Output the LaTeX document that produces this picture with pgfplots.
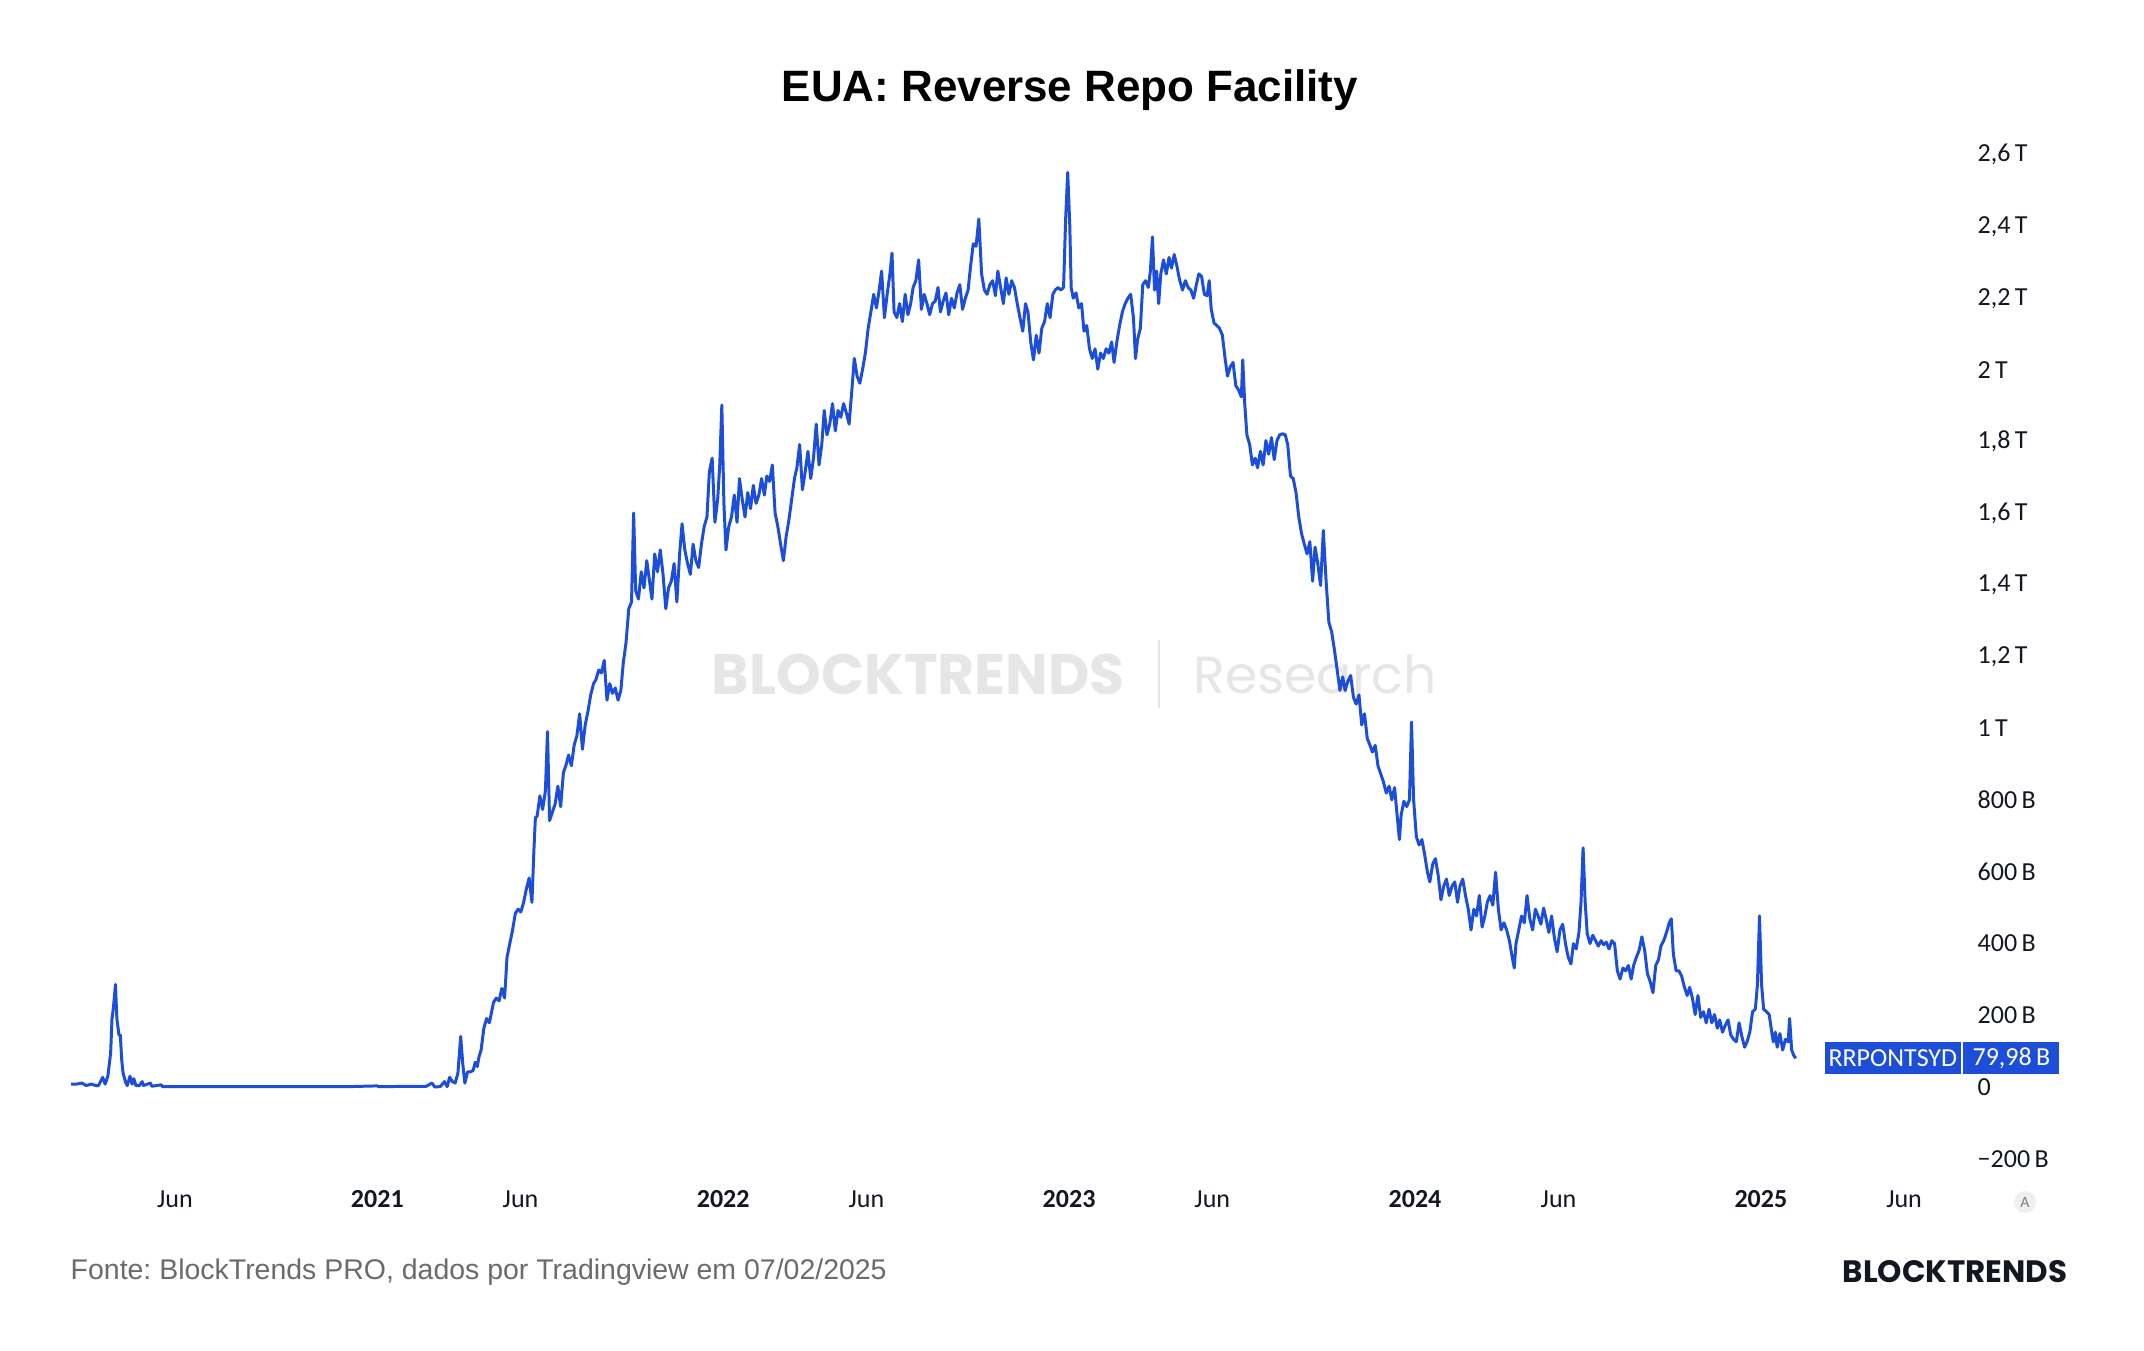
\documentclass[border=0pt]{standalone}
\usepackage{pgfplots}
\pgfplotsset{compat=1.18}
\usepackage{fontspec}
\setmainfont{Liberation Sans}
\newfontfamily\carl{Carlito}
\newfontfamily\pop{Poppins}
\definecolor{rrpblue}{HTML}{1D4ED8}
\definecolor{tick}{HTML}{131722}
\definecolor{foot}{HTML}{6B6B6B}
\definecolor{wm}{HTML}{E6E6E6}
\frenchspacing
\begin{document}
\begin{tikzpicture}[x=1cm,y=1cm]
\fill[white] (0,0) rectangle (21.44,13.5);
% title
\node[font=\bfseries\fontsize{12.5}{14}\selectfont, text=black] at (10.70,12.60) {EUA: Reverse Repo Facility};
% watermark
\node[anchor=west, inner sep=0, text=wm, font=\pop\bfseries\fontsize{16.2}{17}\selectfont] at (7.11,6.76) {BLOCKTRENDS};
\draw[wm, line width=0.6pt] (11.59,7.10) -- (11.59,6.42);
\node[anchor=west, inner sep=0, text=wm, font=\pop\fontsize{14.8}{16}\selectfont] at (11.93,6.76) {Research};
% footer
\node[anchor=west, inner sep=0, text=foot, font=\fontsize{8.1}{9}\selectfont] at (0.70,0.78) {Fonte: BlockTrends PRO, dados por Tradingview em 07/02/2025};
\node[anchor=east, inner sep=0, text=tick, font=\pop\bfseries\fontsize{8.8}{9}\selectfont] at (20.68,0.78) {BLOCKTRENDS};
% A button
\fill[gray!12] (20.25,1.48) circle (0.11);
\node[text=gray, font=\carl\fontsize{4.5}{5}\selectfont, inner sep=0] at (20.25,1.48) {A};
\begin{axis}[
  at={(0.591cm,1.734cm)}, anchor=south west,
  scale only axis, width=19.024cm, height=10.576cm,
  xmin=2020.08, xmax=2025.58, ymin=-250, ymax=2700,
  axis line style={draw=none}, tick style={draw=none}, major tick length=0,
  clip=false,
  xtick={2020.415,2021,2021.414,2022,2022.414,2023,2023.414,2024,2024.415,2025,2025.414},
  xticklabels={Jun,\textbf{2021},Jun,\textbf{2022},Jun,\textbf{2023},Jun,\textbf{2024},Jun,\textbf{2025},Jun},
  xticklabel style={anchor=center, yshift=-2.24mm, inner sep=0, font=\carl\fontsize{7.4}{8}\selectfont, text=tick},
  ytick={-200,0,200,400,600,800,1000,1200,1400,1600,1800,2000,2200,2400,2600},
  yticklabels={{−200\,B},0,200\,B,400\,B,600\,B,800\,B,1\,T,{1,2\,T},{1,4\,T},{1,6\,T},{1,8\,T},2\,T,{2,2\,T},{2,4\,T},{2,6\,T}},
  ytick pos=right, yticklabel pos=right,
  yticklabel style={anchor=west, inner sep=0, xshift=1.55mm, font=\carl\fontsize{7.4}{8}\selectfont, text=tick},
]
\addplot[rrpblue, line width=0.85pt, line join=round] table {
2020.115 8
2020.130 8
2020.146 11
2020.158 4
2020.174 8
2020.186 4
2020.194 4
2020.206 27
2020.213 8
2020.221 30
2020.229 95
2020.233 191
2020.237 221
2020.243 286
2020.247 191
2020.253 145
2020.257 145
2020.261 76
2020.265 38
2020.273 11
2020.277 4
2020.285 30
2020.291 8
2020.296 23
2020.302 4
2020.312 4
2020.320 15
2020.324 4
2020.344 11
2020.348 2
2020.375 6
2020.379 1
2020.700 1
2020.917 1
2021.000 3
2021.004 1
2021.142 2
2021.158 11
2021.166 0
2021.182 1
2021.194 15
2021.202 1
2021.209 27
2021.217 15
2021.225 11
2021.233 38
2021.241 141
2021.247 65
2021.253 11
2021.261 42
2021.269 42
2021.277 46
2021.283 69
2021.289 57
2021.294 84
2021.300 103
2021.304 133
2021.308 164
2021.316 191
2021.324 179
2021.332 217
2021.336 236
2021.344 248
2021.352 240
2021.360 275
2021.368 248
2021.375 362
2021.383 400
2021.391 438
2021.399 484
2021.407 496
2021.415 488
2021.423 515
2021.431 553
2021.439 583
2021.447 515
2021.453 667
2021.457 751
2021.462 755
2021.470 812
2021.478 774
2021.486 827
2021.492 991
2021.498 743
2021.506 766
2021.514 789
2021.522 839
2021.530 782
2021.538 877
2021.545 896
2021.553 926
2021.561 896
2021.569 953
2021.577 980
2021.585 1041
2021.593 942
2021.601 1010
2021.609 1048
2021.617 1094
2021.625 1125
2021.632 1136
2021.640 1163
2021.648 1155
2021.656 1190
2021.664 1079
2021.672 1125
2021.680 1098
2021.688 1113
2021.696 1079
2021.704 1106
2021.711 1182
2021.719 1239
2021.727 1334
2021.735 1353
2021.741 1601
2021.747 1384
2021.755 1361
2021.763 1437
2021.771 1392
2021.779 1468
2021.787 1411
2021.794 1361
2021.802 1487
2021.810 1437
2021.818 1498
2021.826 1430
2021.834 1334
2021.842 1392
2021.850 1411
2021.858 1460
2021.866 1353
2021.874 1487
2021.881 1571
2021.889 1498
2021.897 1460
2021.905 1430
2021.913 1514
2021.921 1468
2021.929 1449
2021.937 1514
2021.945 1563
2021.953 1590
2021.960 1716
2021.968 1754
2021.976 1575
2021.984 1639
2021.990 1735
2021.996 1902
2022.002 1628
2022.008 1498
2022.016 1563
2022.024 1590
2022.032 1651
2022.040 1575
2022.047 1697
2022.055 1639
2022.063 1590
2022.071 1658
2022.079 1613
2022.087 1678
2022.095 1628
2022.103 1651
2022.111 1697
2022.119 1651
2022.126 1704
2022.134 1689
2022.142 1735
2022.150 1601
2022.158 1563
2022.166 1514
2022.174 1468
2022.182 1536
2022.190 1582
2022.198 1639
2022.206 1697
2022.213 1727
2022.221 1792
2022.229 1666
2022.237 1716
2022.245 1773
2022.253 1697
2022.261 1754
2022.269 1849
2022.277 1735
2022.285 1792
2022.292 1887
2022.300 1819
2022.308 1849
2022.316 1906
2022.324 1830
2022.332 1887
2022.340 1868
2022.348 1906
2022.356 1880
2022.364 1849
2022.372 1944
2022.379 2032
2022.387 1983
2022.395 1963
2022.403 2002
2022.411 2047
2022.419 2116
2022.427 2162
2022.435 2211
2022.443 2173
2022.451 2223
2022.458 2276
2022.466 2146
2022.474 2211
2022.482 2268
2022.488 2326
2022.494 2162
2022.502 2146
2022.510 2185
2022.518 2135
2022.526 2211
2022.534 2154
2022.542 2185
2022.549 2230
2022.557 2249
2022.565 2307
2022.573 2169
2022.581 2211
2022.589 2185
2022.597 2154
2022.605 2185
2022.613 2192
2022.621 2230
2022.628 2162
2022.636 2192
2022.644 2215
2022.652 2154
2022.660 2200
2022.668 2173
2022.676 2215
2022.684 2238
2022.692 2169
2022.700 2200
2022.708 2223
2022.715 2288
2022.723 2352
2022.731 2345
2022.739 2421
2022.747 2268
2022.755 2223
2022.763 2211
2022.771 2238
2022.779 2249
2022.787 2207
2022.794 2276
2022.802 2230
2022.810 2185
2022.818 2257
2022.826 2211
2022.834 2249
2022.842 2230
2022.850 2185
2022.858 2146
2022.866 2108
2022.874 2185
2022.881 2162
2022.889 2078
2022.897 2028
2022.905 2097
2022.913 2047
2022.921 2116
2022.929 2135
2022.937 2185
2022.945 2146
2022.953 2211
2022.960 2223
2022.968 2230
2022.976 2223
2022.984 2230
2022.990 2421
2022.996 2551
2023.002 2402
2023.006 2230
2023.012 2200
2023.020 2215
2023.028 2173
2023.036 2185
2023.043 2108
2023.051 2124
2023.059 2059
2023.067 2032
2023.075 2059
2023.083 2002
2023.091 2047
2023.099 2032
2023.107 2059
2023.115 2047
2023.123 2078
2023.130 2021
2023.138 2078
2023.146 2124
2023.154 2162
2023.162 2185
2023.170 2200
2023.178 2211
2023.186 2146
2023.192 2032
2023.198 2085
2023.206 2116
2023.213 2238
2023.221 2249
2023.229 2230
2023.235 2276
2023.241 2371
2023.247 2223
2023.253 2276
2023.259 2185
2023.265 2268
2023.273 2307
2023.281 2268
2023.289 2314
2023.296 2284
2023.304 2322
2023.312 2288
2023.320 2249
2023.328 2223
2023.336 2249
2023.344 2230
2023.352 2223
2023.360 2200
2023.368 2238
2023.375 2268
2023.383 2261
2023.391 2211
2023.399 2207
2023.405 2249
2023.411 2169
2023.419 2131
2023.427 2124
2023.435 2116
2023.443 2097
2023.451 2032
2023.458 1983
2023.466 2009
2023.474 2021
2023.482 1956
2023.490 1944
2023.498 1925
2023.502 2028
2023.508 1902
2023.514 1819
2023.522 1792
2023.530 1735
2023.538 1754
2023.545 1727
2023.553 1773
2023.561 1735
2023.569 1803
2023.577 1765
2023.585 1811
2023.593 1750
2023.601 1803
2023.609 1819
2023.617 1822
2023.625 1819
2023.632 1792
2023.640 1704
2023.648 1697
2023.656 1658
2023.664 1590
2023.672 1544
2023.680 1514
2023.688 1487
2023.696 1521
2023.704 1411
2023.711 1506
2023.719 1460
2023.727 1399
2023.735 1552
2023.743 1411
2023.751 1296
2023.759 1270
2023.767 1220
2023.775 1163
2023.783 1106
2023.791 1144
2023.798 1106
2023.806 1132
2023.814 1148
2023.822 1087
2023.830 1068
2023.838 1094
2023.846 1010
2023.854 1041
2023.862 972
2023.870 953
2023.877 934
2023.885 953
2023.893 896
2023.901 873
2023.909 850
2023.917 820
2023.925 839
2023.933 801
2023.941 835
2023.949 751
2023.955 690
2023.960 759
2023.968 797
2023.976 782
2023.984 801
2023.990 1018
2023.996 801
2024.004 698
2024.012 675
2024.020 690
2024.028 648
2024.036 599
2024.043 572
2024.051 621
2024.059 637
2024.067 591
2024.075 522
2024.083 560
2024.091 580
2024.099 534
2024.107 560
2024.115 572
2024.123 515
2024.130 560
2024.138 580
2024.146 534
2024.154 496
2024.162 438
2024.170 496
2024.178 477
2024.186 534
2024.194 446
2024.202 477
2024.209 515
2024.217 534
2024.225 507
2024.233 599
2024.241 496
2024.249 438
2024.257 458
2024.265 438
2024.273 408
2024.281 362
2024.287 332
2024.292 400
2024.300 438
2024.308 477
2024.316 458
2024.324 534
2024.332 469
2024.340 438
2024.348 496
2024.356 477
2024.364 454
2024.372 499
2024.379 469
2024.387 431
2024.395 477
2024.403 416
2024.411 377
2024.419 438
2024.427 454
2024.435 400
2024.443 362
2024.451 343
2024.458 400
2024.466 385
2024.474 431
2024.480 515
2024.486 667
2024.492 515
2024.498 427
2024.506 400
2024.514 423
2024.522 408
2024.530 393
2024.538 408
2024.545 397
2024.553 404
2024.561 385
2024.569 408
2024.577 400
2024.585 324
2024.593 301
2024.601 332
2024.609 324
2024.617 339
2024.625 301
2024.632 339
2024.640 362
2024.648 381
2024.656 419
2024.664 381
2024.672 316
2024.680 294
2024.688 263
2024.696 339
2024.704 355
2024.711 393
2024.719 408
2024.727 431
2024.735 458
2024.741 469
2024.747 370
2024.755 324
2024.763 324
2024.771 309
2024.779 278
2024.787 255
2024.794 278
2024.802 248
2024.810 202
2024.818 255
2024.826 194
2024.834 210
2024.842 179
2024.850 217
2024.858 179
2024.866 202
2024.874 164
2024.881 187
2024.889 153
2024.897 172
2024.905 187
2024.913 145
2024.921 133
2024.929 126
2024.937 179
2024.945 141
2024.953 111
2024.960 126
2024.968 153
2024.976 210
2024.984 217
2024.990 286
2024.996 477
2025.002 286
2025.008 217
2025.016 210
2025.024 202
2025.032 149
2025.036 126
2025.042 153
2025.047 111
2025.055 149
2025.063 103
2025.071 133
2025.079 126
2025.083 191
2025.089 103
2025.095 88
2025.101 80
};
\node[anchor=east, fill=rrpblue, text=white, inner sep=0, minimum width=13.6mm, minimum height=3.2mm, font=\carl\fontsize{7.4}{8}\selectfont] at (axis cs:2025.58,80) {RRPONTSYD};
\node[anchor=west, fill=rrpblue, text=white, inner sep=0, minimum width=9.6mm, minimum height=3.2mm, font=\carl\fontsize{7.4}{8}\selectfont, xshift=0.12mm] at (axis cs:2025.58,80) {79,98\,B};
\end{axis}
\end{tikzpicture}
\end{document}
